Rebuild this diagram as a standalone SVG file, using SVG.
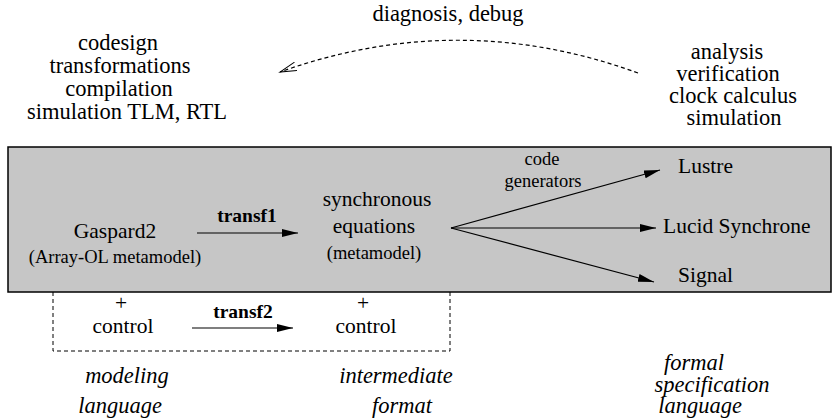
<svg xmlns="http://www.w3.org/2000/svg" width="834" height="418" viewBox="0 0 834 418" font-family="'Liberation Serif', 'DejaVu Serif', serif">
<defs>
<marker id="fill" markerUnits="userSpaceOnUse" markerWidth="18" markerHeight="10" refX="16" refY="4" orient="auto">
<path d="M0,0 L16,4 L0,8 Z" fill="#000"/>
</marker>
<marker id="open" markerUnits="userSpaceOnUse" markerWidth="20" markerHeight="12" refX="17" refY="5" orient="auto">
<path d="M0,0.5 L17,5 L0,9.5" fill="none" stroke="#000" stroke-width="1"/>
</marker>
<style>
.t{font-size:22.5px;text-anchor:middle}
.b{font-size:21.5px}
.bc{font-size:21.5px;text-anchor:middle}
.s{font-size:18.5px;text-anchor:middle}
.bold{font-size:19.5px;font-weight:bold;text-anchor:middle}
.it{font-size:22.5px;font-style:italic;text-anchor:middle}
.ln{stroke:#000;stroke-width:1.2;fill:none}
</style>
</defs>
<rect id="platform" x="8" y="147" width="823" height="145" fill="#c6c6c6" stroke="#000" stroke-width="1.5"/>
<path id="controlbox" d="M53,292 V351 H450 V292" fill="none" stroke="#000" stroke-width="1" stroke-dasharray="4,3"/>
<g id="connectors">
<path class="ln" d="M638,73 Q459,8 280,72" stroke-dasharray="4,3" marker-end="url(#open)" stroke-width="1"/>
<line class="ln" x1="197" y1="233" x2="298" y2="233" marker-end="url(#fill)"/>
<line class="ln" x1="192" y1="328" x2="293" y2="328" marker-end="url(#fill)"/>
<line class="ln" x1="451" y1="228" x2="660" y2="170" marker-end="url(#fill)"/>
<line class="ln" x1="451" y1="228" x2="656" y2="228" marker-end="url(#fill)"/>
<line class="ln" x1="451" y1="228" x2="654" y2="282" marker-end="url(#fill)"/>
</g>
<g font-family="'Liberation Serif', 'DejaVu Serif', serif" fill="#000">
<g id="diag-label"><text class="t" x="448" y="21">diagnosis, debug</text></g>
<g id="left-tools">
<text class="t" x="118" y="50">codesign</text>
<text class="t" x="120" y="73">transformations</text>
<text class="t" x="119" y="96">compilation</text>
<text class="t" x="127" y="119">simulation TLM, RTL</text>
</g>
<g id="right-tools">
<text class="t" x="727" y="59">analysis</text>
<text class="t" x="728" y="81">verification</text>
<text class="t" x="733" y="103">clock calculus</text>
<text class="t" x="734" y="125">simulation</text>
</g>
<g id="gaspard2">
<text class="bc" x="115" y="238">Gaspard2</text>
<text class="s" x="115" y="263">(Array-OL metamodel)</text>
</g>
<g id="transf1"><text class="bold" x="247" y="222">transf1</text></g>
<g id="sync">
<text class="bc" x="377" y="206">synchronous</text>
<text class="bc" x="374" y="233">equations</text>
<text class="s" x="374" y="259">(metamodel)</text>
</g>
<g id="codegen">
<text class="s" x="542" y="165">code</text>
<text class="s" x="543" y="187">generators</text>
</g>
<g id="lustre"><text class="b" x="678" y="173">Lustre</text></g>
<g id="lucid"><text class="b" x="663" y="233">Lucid Synchrone</text></g>
<g id="signal"><text class="b" x="678" y="282">Signal</text></g>
<g id="control1">
<text class="bc" x="121" y="310">+</text>
<text class="bc" x="123" y="333">control</text>
</g>
<g id="transf2"><text class="bold" x="243" y="318">transf2</text></g>
<g id="control2">
<text class="bc" x="363" y="310">+</text>
<text class="bc" x="366" y="333">control</text>
</g>
<g id="modeling">
<text class="it" x="127" y="383">modeling</text>
<text class="it" x="120" y="413">language</text>
</g>
<g id="intermediate">
<text class="it" x="396" y="383">intermediate</text>
<text class="it" x="402" y="413">format</text>
</g>
<g id="formal">
<text class="it" x="694" y="370">formal</text>
<text class="it" x="712" y="392">specification</text>
<text class="it" x="700" y="413">language</text>
</g>
</g>
</svg>
